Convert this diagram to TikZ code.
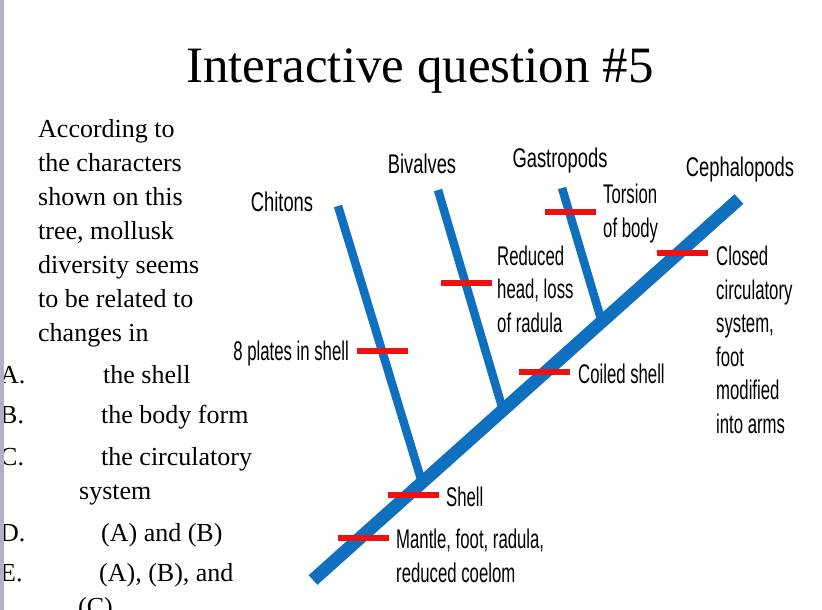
\documentclass[tikz,border=0pt]{standalone}
\usepackage{fontspec}
\setmainfont{Liberation Serif}
\newfontfamily\taxonfont[FakeStretch=0.68]{Liberation Sans}
\newfontfamily\charfont[FakeStretch=0.62]{Liberation Sans}
\usetikzlibrary{calc}
\definecolor{treeblue}{RGB}{16,112,192}
\definecolor{markred}{RGB}{236,18,18}
\definecolor{edgegray}{RGB}{178,176,200}

\begin{document}
\begin{tikzpicture}[x=1pt, y=-1pt,
    trunk/.style={line width=13pt, treeblue},
    branch/.style={line width=8.5pt, treeblue},
    tickmark/.style={line width=6.5pt, markred},
    taxon/.style={font=\taxonfont\fontsize{27}{33}\selectfont, inner sep=0pt, anchor=base},
    trait/.style={font=\charfont\fontsize{27}{33.5}\selectfont, inner sep=0pt, anchor=base west, align=left},
    body/.style={font=\fontsize{26}{34}\selectfont, inner sep=0pt, anchor=base west, align=left}]
    \useasboundingbox (0,0) rectangle (822,610);
    \clip (0,0) rectangle (822,610);

    % Title
    \node[font=\fontsize{51}{60}\selectfont, inner sep=0pt, anchor=base] (title) at (420,82) {Interactive question \#5};

    % Question (base = last line)
    \node[body] (question) at (38,341) {According to\\the characters\\shown on this\\tree, mollusk\\diversity seems\\to be related to\\changes in};
    \node[body] (optA) at (0,383) {A.};
    \node[body] (txtA) at (103,383) {the shell};
    \node[body] (optB) at (0,423) {B.};
    \node[body] (txtB) at (101,423) {the body form};
    \node[body] (optC) at (0,465) {C.};
    \node[body] (txtC) at (101,465) {the circulatory};
    \node[body] (txtCb) at (79,499) {system};
    \node[body] (optD) at (0,541) {D.};
    \node[body] (txtD) at (101,541) {(A) and (B)};
    \node[body] (optE) at (0,581) {E.};
    \node[body] (txtE) at (99,581) {(A), (B), and};
    \node[body] (txtEb) at (78,615) {(C)};

    % Tree
    \coordinate (root) at (313,580);
    \coordinate (tipCeph) at (739,199);
    \coordinate (tipChit) at (338,206);
    \coordinate (tipBiva) at (438,190);
    \coordinate (tipGast) at (562,188);
    \coordinate (joinChit) at ($(root)!0.256!(tipCeph)$);
    \coordinate (joinBiva) at ($(root)!0.446!(tipCeph)$);
    \coordinate (joinGast) at ($(root)!0.678!(tipCeph)$);
    \draw[branch] (tipChit) -- (joinChit);
    \draw[branch] (tipBiva) -- (joinBiva);
    \draw[branch] (tipGast) -- (joinGast);
    \draw[trunk] (root) -- (tipCeph);

    % Taxa
    \node[taxon] (chitons) at (282,211) {Chitons};
    \node[taxon] (bivalves) at (422,173) {Bivalves};
    \node[taxon] (gastropods) at (560,167) {Gastropods};
    \node[taxon] (cephalopods) at (740,176) {Cephalopods};

    % Characters
    \coordinate (mPlates) at (382,351);
    \coordinate (mHead) at (466,283);
    \coordinate (mTorsion) at (570,212);
    \coordinate (mClosed) at (682,253);
    \coordinate (mCoiled) at (544,372);
    \coordinate (mShell) at (413,495);
    \coordinate (mMantle) at (363,538);
    \foreach \m in {mPlates, mHead, mTorsion, mClosed, mCoiled, mShell, mMantle}
        \draw[tickmark] ([xshift=-25.5pt]\m) -- ([xshift=25.5pt]\m);

    \node[trait, anchor=base east] (lPlates) at (349,360) {8 plates in shell};
    \node[trait] (lHead) at (497,332) {Reduced\\head, loss\\of radula};
    \node[trait] (lTorsion) at (603,237) {Torsion\\of body};
    \node[trait] (lClosed) at (716,433) {Closed\\circulatory\\system,\\foot\\modified\\into arms};
    \node[trait] (lCoiled) at (578,383) {Coiled shell};
    \node[trait] (lShell) at (446,506) {Shell};
    \node[trait] (lMantle) at (396,582) {Mantle, foot, radula,\\reduced coelom};

    % Slide edge
    \fill[edgegray] (0,0) rectangle (4,610);
\end{tikzpicture}
\end{document}
